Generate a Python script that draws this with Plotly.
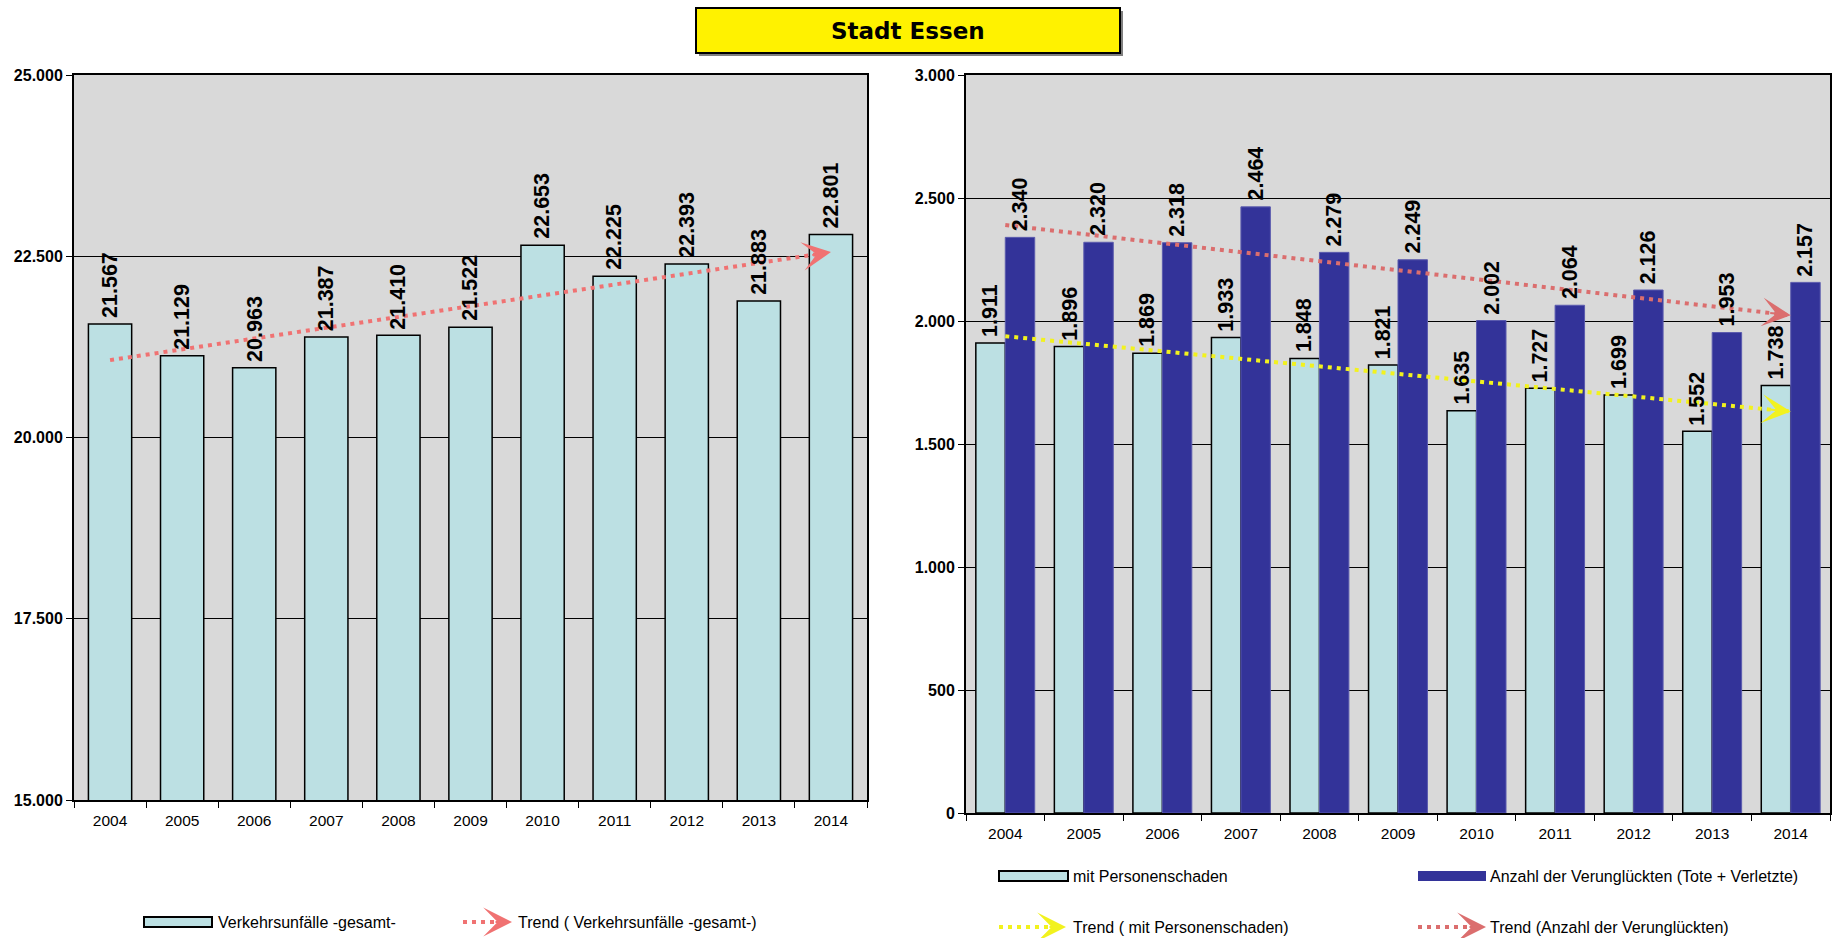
import plotly.graph_objects as go

# --- data (Stadt Essen, Verkehrsunfälle 2004-2014) ---
years = [2004, 2005, 2006, 2007, 2008, 2009, 2010, 2011, 2012, 2013, 2014]
unfaelle_gesamt = [21567, 21129, 20963, 21387, 21410, 21522, 22653, 22225, 22393, 21883, 22801]
mit_personenschaden = [1911, 1896, 1869, 1933, 1848, 1821, 1635, 1727, 1699, 1552, 1738]
verunglueckte = [2340, 2320, 2318, 2464, 2279, 2249, 2002, 2064, 2126, 1953, 2157]

# trend lines, start and end values
trend_years = [2004, 2014]
trend_gesamt = [21067, 22557]
trend_personen = [1938, 1632]
trend_verungl = [2390, 2023]

left_ticks = [15000, 17500, 20000, 22500, 25000]
right_ticks = [0, 500, 1000, 1500, 2000, 2500, 3000]

W, H = 1837, 938
FONT = "Liberation Sans, Arial, sans-serif"
LIGHT = "#BCE0E3"
DARK = "#333399"
BG = "#D9D9D9"
RED_L = "#F07272"
RED_R = "#DB6E6E"
YELLOW = "#F2F21E"
DOT = "4px,5px"
HEAD = {"arrowhead": 3, "arrowsize": 2.4, "arrowwidth": 2}


def px(x):
    return x / W


def py(y):
    return 1 - y / H


def fmt(v):
    return f"{v:,}".replace(",", ".")


fig = go.Figure()

# left chart
fig.add_trace(go.Bar(
    x=years, y=unfaelle_gesamt, width=0.6,
    marker={"color": LIGHT, "line": {"color": "black", "width": 1.5}},
    xaxis="x", yaxis="y",
))
fig.add_trace(go.Scatter(
    x=trend_years, y=trend_gesamt, mode="lines",
    line={"color": RED_L, "width": 4, "dash": DOT},
    xaxis="x", yaxis="y",
))

# right chart
fig.add_trace(go.Bar(
    x=years, y=mit_personenschaden,
    marker={"color": LIGHT, "line": {"color": "black", "width": 1.5}},
    xaxis="x2", yaxis="y2",
))
fig.add_trace(go.Bar(
    x=years, y=verunglueckte,
    marker={"color": DARK, "line": {"color": "#5B5BAE", "width": 1}},
    xaxis="x2", yaxis="y2",
))
fig.add_trace(go.Scatter(
    x=trend_years, y=trend_personen, mode="lines",
    line={"color": YELLOW, "width": 4, "dash": DOT},
    xaxis="x2", yaxis="y2",
))
fig.add_trace(go.Scatter(
    x=trend_years, y=trend_verungl, mode="lines",
    line={"color": RED_R, "width": 4, "dash": DOT},
    xaxis="x2", yaxis="y2",
))

# arrow heads at the end of each trend
for xr, yr, vals, col in [("x", "y", trend_gesamt, RED_L),
                          ("x2", "y2", trend_personen, YELLOW),
                          ("x2", "y2", trend_verungl, RED_R)]:
    slope = (vals[1] - vals[0]) / (trend_years[1] - trend_years[0])
    back = 0.28
    fig.add_annotation(
        x=trend_years[1], y=vals[1], xref=xr, yref=yr,
        ax=trend_years[1] - back, ay=vals[1] - slope * back, axref=xr, ayref=yr,
        text="", showarrow=True, arrowcolor=col, font={"size": 1}, **HEAD,
    )

# value labels
label_font = {"family": FONT, "size": 21.5, "color": "black", "weight": "bold"}
for yr, v in zip(years, unfaelle_gesamt):
    fig.add_annotation(x=yr, y=v, xref="x", yref="y", text=fmt(v), textangle=-90,
                       showarrow=False, yanchor="bottom", yshift=4, font=label_font)
for yr, a, b in zip(years, mit_personenschaden, verunglueckte):
    fig.add_annotation(x=yr - 0.1875, y=a, xref="x2", yref="y2", text=fmt(a), textangle=-90,
                       showarrow=False, yanchor="bottom", yshift=4, font=label_font)
    fig.add_annotation(x=yr + 0.1875, y=b, xref="x2", yref="y2", text=fmt(b), textangle=-90,
                       showarrow=False, yanchor="bottom", yshift=4, font=label_font)

boundaries = [y - 0.5 for y in years] + [years[-1] + 0.5]
xaxis_common = dict(
    range=[years[0] - 0.5, years[-1] + 0.5], tickvals=years, ticktext=[str(y) for y in years],
    ticks="", showgrid=False, zeroline=False, showline=True, linecolor="black", linewidth=2,
    mirror=True, tickfont={"family": FONT, "size": 15.5, "color": "black"},
    ticklabelstandoff=5, automargin=False,
    minor={"tickvals": boundaries, "ticks": "outside", "ticklen": 6, "tickcolor": "black",
           "tickwidth": 1, "showgrid": False},
)
yaxis_common = dict(
    ticks="outside", ticklen=6, tickcolor="black", tickformat=",d",
    showgrid=True, gridcolor="black", gridwidth=1, zeroline=False,
    showline=True, linecolor="black", linewidth=2, mirror=True, automargin=False,
    tickfont={"family": FONT, "size": 16, "color": "black", "weight": "bold"},
)

fig.update_layout(
    width=W, height=H, autosize=False,
    margin={"l": 0, "r": 0, "t": 0, "b": 0, "pad": 0},
    paper_bgcolor="white", plot_bgcolor=BG,
    showlegend=False, barmode="group", bargap=0.25, bargroupgap=0,
    separators=",.",
    font={"family": FONT, "color": "black"},
    xaxis=dict(domain=[px(74), px(867)], anchor="y", **xaxis_common),
    yaxis=dict(domain=[py(800), py(75)], anchor="x", range=[15000, 25000],
               tickvals=left_ticks, **yaxis_common),
    xaxis2=dict(domain=[px(966), px(1830)], anchor="y2", **xaxis_common),
    yaxis2=dict(domain=[py(813), py(75)], anchor="x2", range=[0, 3000],
                tickvals=right_ticks, **yaxis_common),
)

# title box
fig.add_shape(type="rect", xref="paper", yref="paper", x0=px(699), x1=px(1123), y0=py(56), y1=py(11),
              fillcolor="#808080", line={"width": 0}, layer="below")
fig.add_shape(type="rect", xref="paper", yref="paper", x0=px(696), x1=px(1120), y0=py(53), y1=py(8),
              fillcolor="#FFF200", line={"color": "black", "width": 2})
fig.add_annotation(x=px(908), y=py(31), xref="paper", yref="paper", text="<b>Stadt Essen</b>",
                   xanchor="center", yanchor="middle", showarrow=False,
                   font={"family": "DejaVu Sans", "size": 23, "color": "black"})

# legends drawn by hand
leg_font = {"family": FONT, "size": 16, "color": "black"}


def leg_box(x0, x1, yc, color, border):
    fig.add_shape(type="rect", xref="paper", yref="paper", x0=px(x0), x1=px(x1),
                  y0=py(yc + 5), y1=py(yc - 5), fillcolor=color,
                  line={"color": "black", "width": 2} if border else {"width": 0})


def leg_trend(x0, tip, yc, color):
    fig.add_shape(type="line", xref="paper", yref="paper", x0=px(x0), x1=px(tip - 14),
                  y0=py(yc), y1=py(yc), line={"color": color, "width": 4, "dash": DOT})
    fig.add_annotation(x=px(tip), y=py(yc), xref="paper", yref="paper", ax=-18, ay=0,
                       xanchor="center", yanchor="middle", text="", showarrow=True,
                       arrowcolor=color, font={"size": 1}, **HEAD)


def leg_text(x, yc, text):
    fig.add_annotation(x=px(x), y=py(yc), xref="paper", yref="paper", text=text,
                       showarrow=False, xanchor="left", yanchor="middle", font=leg_font)


leg_box(144, 212, 922, LIGHT, True)
leg_text(216, 922, "Verkehrsunfälle -gesamt-")
leg_trend(463, 512, 922, RED_L)
leg_text(516, 922, "Trend ( Verkehrsunfälle -gesamt-)")

leg_box(999, 1068, 876, LIGHT, True)
leg_text(1071, 876, "mit Personenschaden")
leg_box(1418, 1486, 876, DARK, False)
leg_text(1488, 876, "Anzahl der Verunglückten (Tote + Verletzte)")
leg_trend(999, 1066, 927, YELLOW)
leg_text(1071, 927, "Trend ( mit Personenschaden)")
leg_trend(1418, 1486, 927, RED_R)
leg_text(1488, 927, "Trend (Anzahl der Verunglückten)")

# page margin off, so the 1837x938 figure fills the window exactly
fig.write_html("out.html", config={"displayModeBar": False},
               post_script="document.body.style.margin='0';document.body.style.overflow='hidden';")
